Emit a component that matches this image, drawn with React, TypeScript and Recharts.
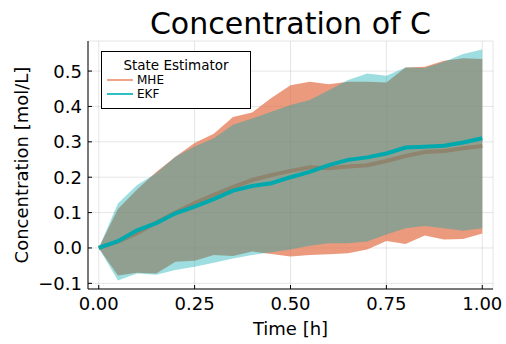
import { Area, CartesianGrid, ComposedChart, Legend, Line, XAxis, YAxis } from 'recharts'

const times = [0, 0.05, 0.1, 0.15, 0.2, 0.25, 0.3, 0.35, 0.4, 0.45, 0.5, 0.55, 0.6, 0.65, 0.7, 0.75, 0.8, 0.85, 0.9, 0.95, 1.0]

const mheMean = [0, 0.018, 0.042, 0.072, 0.1, 0.127, 0.15, 0.172, 0.192, 0.206, 0.218, 0.228, 0.225, 0.23, 0.234, 0.246, 0.26, 0.271, 0.274, 0.282, 0.288]
const mheLow = [0, -0.078, -0.07, -0.072, -0.039, -0.036, -0.02, -0.023, -0.01, -0.017, -0.024, -0.02, -0.018, -0.015, -0.004, 0.02, 0.011, 0.035, 0.024, 0.025, 0.041]
const mheHigh = [0, 0.11, 0.165, 0.215, 0.258, 0.297, 0.323, 0.37, 0.383, 0.424, 0.46, 0.47, 0.463, 0.47, 0.47, 0.468, 0.51, 0.512, 0.529, 0.536, 0.534]

const ekfMean = [0, 0.019, 0.05, 0.07, 0.098, 0.117, 0.138, 0.162, 0.175, 0.183, 0.2, 0.215, 0.234, 0.249, 0.256, 0.267, 0.284, 0.286, 0.289, 0.298, 0.31]
const ekfLow = [0, -0.092, -0.072, -0.076, -0.062, -0.053, -0.042, -0.03, -0.02, -0.012, -0.004, 0.006, 0.013, 0.013, 0.018, 0.038, 0.056, 0.062, 0.056, 0.049, 0.056]
const ekfHigh = [0, 0.126, 0.178, 0.211, 0.258, 0.287, 0.31, 0.348, 0.366, 0.385, 0.404, 0.418, 0.446, 0.475, 0.493, 0.487, 0.51, 0.509, 0.526, 0.548, 0.561]

const seriesNames = ['MHE', 'EKF']
const xTicks = [0, 0.25, 0.5, 0.75, 1]
const yTicks = [-0.1, 0, 0.1, 0.2, 0.3, 0.4, 0.5]

const FONT = '"DejaVu Sans", sans-serif'
const MHE_COLOR = '#E36F47'
const EKF_COLOR = '#00A9AD'

const data = times.map((t, i) => ({
    t,
    mhe: mheMean[i],
    mheBand: [mheLow[i], mheHigh[i]],
    ekf: ekfMean[i],
    ekfBand: [ekfLow[i], ekfHigh[i]]
}))

const minus = (s: string) => s.replace('-', '\u2212')

const XTick = (props: any) => {
    const { x, y, payload } = props
    return (
        <g>
            <line x1={x} x2={x} y1={y} y2={y - 4} stroke="#000" strokeWidth={1} />
            <text x={x} y={y + 14} textAnchor="middle" dominantBaseline="central" fontSize={18} fontFamily={FONT} fill="#000">
                {minus(Number(payload.value).toFixed(2))}
            </text>
        </g>
    )
}

const YTick = (props: any) => {
    const { x, y, payload } = props
    return (
        <g>
            <line x1={x} x2={x + 4} y1={y} y2={y} stroke="#000" strokeWidth={1} />
            <text x={x - 6} y={y} textAnchor="end" dominantBaseline="central" fontSize={18} fontFamily={FONT} fill="#000">
                {minus(Number(payload.value).toFixed(1))}
            </text>
        </g>
    )
}

const legendColors: Record<string, string> = { MHE: '#EFA58C', EKF: '#2EBFC2' }

const renderLegend = (props: any) => {
    const payload = props.payload || []
    const items = seriesNames.filter((n) => payload.some((p: any) => p.value === n))
    return (
        <div style={{
            position: 'relative', width: 150, height: 58, boxSizing: 'border-box',
            border: '1px solid #000', background: '#fff', fontFamily: FONT
        }}>
            <div style={{ position: 'absolute', left: 0, width: 148, top: 5, textAlign: 'center', fontSize: 13.5, lineHeight: '16px' }}>
                State Estimator
            </div>
            {items.map((name, i) => (
                <div key={name} style={{ position: 'absolute', left: 5, top: 21 + i * 14, height: 14, display: 'flex', alignItems: 'center' }}>
                    <div style={{ width: 26, height: 2, background: legendColors[name] }} />
                    <span style={{ marginLeft: 4, fontSize: 12, lineHeight: '14px' }}>{name}</span>
                </div>
            ))}
        </div>
    )
}

export default function App() {
    return (
        <div style={{ position: 'absolute', left: 0, top: 0, width: 506, height: 344, background: '#fff' }}>
            <div style={{
                position: 'absolute', left: 88, width: 405, top: 6, textAlign: 'center',
                fontFamily: FONT, fontSize: 30, lineHeight: '36px', zIndex: 2
            }}>
                Concentration of C
            </div>
            <ComposedChart
                width={506}
                height={344}
                data={data}
                margin={{ top: 41, right: 13, left: 0, bottom: 0 }}>
                <CartesianGrid stroke="#000" strokeOpacity={0.1} strokeWidth={1} />
                <XAxis
                    dataKey="t"
                    type="number"
                    domain={[-0.028, 1.028]}
                    ticks={xTicks}
                    height={55}
                    tickSize={0}
                    tickMargin={0}
                    tickLine={false}
                    tick={<XTick />}
                    axisLine={{ stroke: '#000', strokeWidth: 1 }}
                    allowDataOverflow
                    label={{
                        content: (p: any) => (
                            <text x={p.viewBox.x + p.viewBox.width / 2} y={p.viewBox.y + 39} textAnchor="middle" dominantBaseline="central" fontSize={18} fontFamily={FONT} fill="#000">
                                Time [h]
                            </text>
                        )
                    }}
                />
                <YAxis
                    type="number"
                    domain={[-0.116, 0.585]}
                    ticks={yTicks}
                    width={88}
                    tickSize={0}
                    tickMargin={0}
                    tickLine={false}
                    tick={<YTick />}
                    axisLine={{ stroke: '#000', strokeWidth: 1 }}
                    allowDataOverflow
                    label={{
                        content: (p: any) => {
                            const cx = 21
                            const cy = p.viewBox.y + p.viewBox.height / 2
                            return (
                                <text x={cx} y={cy} transform={`rotate(-90 ${cx} ${cy})`} textAnchor="middle" dominantBaseline="central" fontSize={18} fontFamily={FONT} fill="#000">
                                    Concentration [mol/L]
                                </text>
                            )
                        }
                    }}
                />
                <Legend
                    layout="vertical"
                    align="center"
                    verticalAlign="middle"
                    content={renderLegend}
                    wrapperStyle={{ left: 101, top: 51, width: 150, height: 58 }}
                />
                <Area dataKey="mheBand" type="linear" fill={MHE_COLOR} fillOpacity={0.7} stroke="none" legendType="none" isAnimationActive={false} dot={false} activeDot={false} />
                <Area dataKey="ekfBand" type="linear" fill={EKF_COLOR} fillOpacity={0.38} stroke="none" legendType="none" isAnimationActive={false} dot={false} activeDot={false} />
                <Line dataKey="mhe" name="MHE" type="linear" stroke="#8F846D" strokeWidth={4} dot={false} isAnimationActive={false} />
                <Line dataKey="ekf" name="EKF" type="linear" stroke={EKF_COLOR} strokeWidth={4} dot={false} isAnimationActive={false} />
            </ComposedChart>
        </div>
    )
}
